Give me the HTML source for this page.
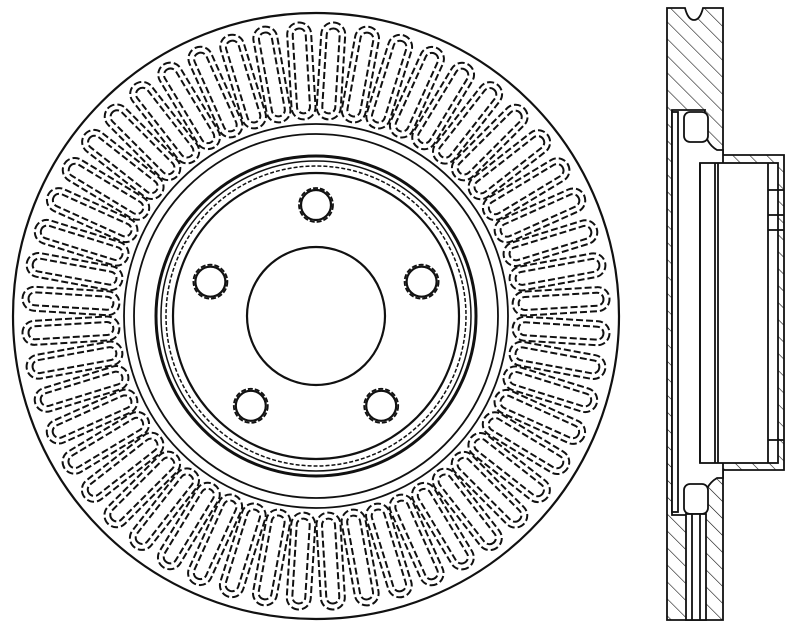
<!DOCTYPE html>
<html><head><style>body{margin:0;background:#fff}svg{display:block}</style></head><body>
<svg width="800" height="631" viewBox="0 0 800 631" xmlns="http://www.w3.org/2000/svg" xmlns:xlink="http://www.w3.org/1999/xlink" fill="none" stroke="#111">
<defs>
<g id="vane">
  <rect x="-12" y="-294" width="24" height="97" rx="12" stroke-width="2" stroke-dasharray="7,3"/>
  <rect x="-6.5" y="-288" width="13" height="85" rx="6.5" stroke-width="2" stroke-dasharray="7,3"/>
</g>
<pattern id="hatch" width="12" height="12" patternUnits="userSpaceOnUse" patternTransform="rotate(-45)">
  <line x1="0" y1="0" x2="0" y2="12" stroke="#111" stroke-width="1.2"/>
</pattern>
</defs>
<g transform="translate(316,316)">
  <circle r="303" stroke-width="2.2"/>
  <circle r="192" stroke-width="1.8"/>
  <circle r="182" stroke-width="1.8"/>
  <circle r="160" stroke-width="3"/>
  <circle r="155" stroke-width="1.5"/>
  <circle r="150" stroke-width="1.5" stroke-dasharray="4,2"/>
  <circle r="143" stroke-width="2.2"/>
  <circle r="69" stroke-width="2.2"/>
  <g>
<use href="#vane" xlink:href="#vane" transform="rotate(3.5)"/><use href="#vane" xlink:href="#vane" transform="rotate(10.42)"/><use href="#vane" xlink:href="#vane" transform="rotate(17.35)"/><use href="#vane" xlink:href="#vane" transform="rotate(24.27)"/><use href="#vane" xlink:href="#vane" transform="rotate(31.19)"/><use href="#vane" xlink:href="#vane" transform="rotate(38.12)"/><use href="#vane" xlink:href="#vane" transform="rotate(45.04)"/><use href="#vane" xlink:href="#vane" transform="rotate(51.96)"/><use href="#vane" xlink:href="#vane" transform="rotate(58.88)"/><use href="#vane" xlink:href="#vane" transform="rotate(65.81)"/><use href="#vane" xlink:href="#vane" transform="rotate(72.73)"/><use href="#vane" xlink:href="#vane" transform="rotate(79.65)"/><use href="#vane" xlink:href="#vane" transform="rotate(86.58)"/>
<use href="#vane" xlink:href="#vane" transform="rotate(93.5)"/><use href="#vane" xlink:href="#vane" transform="rotate(100.42)"/><use href="#vane" xlink:href="#vane" transform="rotate(107.35)"/><use href="#vane" xlink:href="#vane" transform="rotate(114.27)"/><use href="#vane" xlink:href="#vane" transform="rotate(121.19)"/><use href="#vane" xlink:href="#vane" transform="rotate(128.12)"/><use href="#vane" xlink:href="#vane" transform="rotate(135.04)"/><use href="#vane" xlink:href="#vane" transform="rotate(141.96)"/><use href="#vane" xlink:href="#vane" transform="rotate(148.88)"/><use href="#vane" xlink:href="#vane" transform="rotate(155.81)"/><use href="#vane" xlink:href="#vane" transform="rotate(162.73)"/><use href="#vane" xlink:href="#vane" transform="rotate(169.65)"/><use href="#vane" xlink:href="#vane" transform="rotate(176.58)"/>
<use href="#vane" xlink:href="#vane" transform="rotate(183.5)"/><use href="#vane" xlink:href="#vane" transform="rotate(190.42)"/><use href="#vane" xlink:href="#vane" transform="rotate(197.35)"/><use href="#vane" xlink:href="#vane" transform="rotate(204.27)"/><use href="#vane" xlink:href="#vane" transform="rotate(211.19)"/><use href="#vane" xlink:href="#vane" transform="rotate(218.12)"/><use href="#vane" xlink:href="#vane" transform="rotate(225.04)"/><use href="#vane" xlink:href="#vane" transform="rotate(231.96)"/><use href="#vane" xlink:href="#vane" transform="rotate(238.88)"/><use href="#vane" xlink:href="#vane" transform="rotate(245.81)"/><use href="#vane" xlink:href="#vane" transform="rotate(252.73)"/><use href="#vane" xlink:href="#vane" transform="rotate(259.65)"/><use href="#vane" xlink:href="#vane" transform="rotate(266.58)"/>
<use href="#vane" xlink:href="#vane" transform="rotate(273.5)"/><use href="#vane" xlink:href="#vane" transform="rotate(280.42)"/><use href="#vane" xlink:href="#vane" transform="rotate(287.35)"/><use href="#vane" xlink:href="#vane" transform="rotate(294.27)"/><use href="#vane" xlink:href="#vane" transform="rotate(301.19)"/><use href="#vane" xlink:href="#vane" transform="rotate(308.12)"/><use href="#vane" xlink:href="#vane" transform="rotate(315.04)"/><use href="#vane" xlink:href="#vane" transform="rotate(321.96)"/><use href="#vane" xlink:href="#vane" transform="rotate(328.88)"/><use href="#vane" xlink:href="#vane" transform="rotate(335.81)"/><use href="#vane" xlink:href="#vane" transform="rotate(342.73)"/><use href="#vane" xlink:href="#vane" transform="rotate(349.65)"/><use href="#vane" xlink:href="#vane" transform="rotate(356.58)"/>
  </g>
  <g stroke-width="2.2">
    <circle cx="0" cy="-111" r="15"/><circle cx="0" cy="-111" r="17" stroke-width="1.8" stroke-dasharray="5,2"/>
    <circle cx="-105.6" cy="-34.3" r="15"/><circle cx="-105.6" cy="-34.3" r="17" stroke-width="1.8" stroke-dasharray="5,2"/>
    <circle cx="105.6" cy="-34.3" r="15"/><circle cx="105.6" cy="-34.3" r="17" stroke-width="1.8" stroke-dasharray="5,2"/>
    <circle cx="-65.2" cy="89.8" r="15"/><circle cx="-65.2" cy="89.8" r="17" stroke-width="1.8" stroke-dasharray="5,2"/>
    <circle cx="65.2" cy="89.8" r="15"/><circle cx="65.2" cy="89.8" r="17" stroke-width="1.8" stroke-dasharray="5,2"/>
  </g>
</g>
<!-- side view -->
<g stroke-width="1.8">
  <path d="M667 8 H685 Q688 20 694 20 Q700 20 703 8 H723 V155 H784 V470 H723 V620 H667 Z" fill="url(#hatch)"/>
  <path d="M672 110 H705 Q700 140 717 150 H723 V478 H717 Q700 488 705 515 H672 Z" fill="#fff"/>
  <rect x="672" y="112" width="6" height="400" fill="#fff"/>
  <rect x="700" y="163" width="78" height="300" fill="#fff"/>
  <line x1="700" y1="163" x2="700" y2="463"/>
  <line x1="715" y1="163" x2="715" y2="463"/>
  <line x1="718" y1="163" x2="718" y2="463"/>
  <line x1="768" y1="163" x2="768" y2="463"/>
  <rect x="684" y="112" width="24" height="30" rx="6" fill="#fff"/>
  <rect x="684" y="484" width="24" height="30" rx="6" fill="#fff"/>
  <rect x="686" y="514" width="20" height="106" fill="#fff"/>
  <line x1="692" y1="514" x2="692" y2="620"/><line x1="700" y1="514" x2="700" y2="620"/>
  <line x1="768" y1="190" x2="784" y2="190"/><line x1="768" y1="215" x2="784" y2="215"/>
  <line x1="768" y1="230" x2="784" y2="230"/><line x1="768" y1="440" x2="784" y2="440"/>
</g>
</svg>
</body></html>
